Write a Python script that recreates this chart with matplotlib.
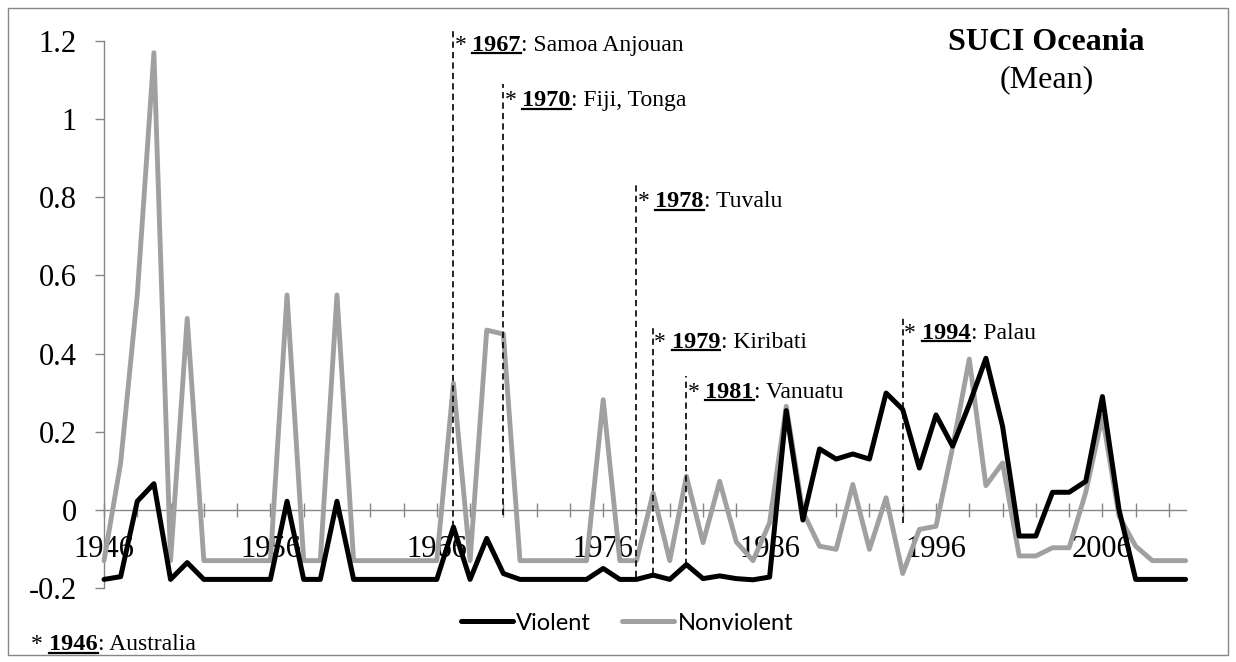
import matplotlib
matplotlib.use('Agg')
import matplotlib.pyplot as plt
from matplotlib.lines import Line2D
from matplotlib.patches import Rectangle

plt.rcParams['font.family'] = 'Liberation Serif'
plt.rcParams['axes.unicode_minus'] = False
plt.rcParams['lines.scale_dashes'] = False

# SUCI Oceania, yearly means
years = list(range(1946, 2012))
violent = [-0.178, -0.171, 0.022, 0.067, -0.178, -0.135, -0.178, -0.178, -0.178, -0.178,
           -0.178, 0.022, -0.178, -0.178, 0.022, -0.178, -0.178, -0.178, -0.178, -0.178,
           -0.178, -0.044, -0.178, -0.073, -0.163, -0.178, -0.178, -0.178, -0.178, -0.178,
           -0.150, -0.178, -0.178, -0.167, -0.178, -0.140, -0.176, -0.169, -0.176, -0.179,
           -0.172, 0.254, -0.026, 0.156, 0.130, 0.143, 0.130, 0.299, 0.257, 0.107,
           0.243, 0.163, 0.270, 0.388, 0.214, -0.067, -0.067, 0.045, 0.045, 0.073,
           0.290, 0.000, -0.178, -0.178, -0.178, -0.178]
nonviolent = [-0.130, 0.120, 0.550, 1.170, -0.130, 0.490, -0.130, -0.130, -0.130, -0.130,
              -0.130, 0.550, -0.130, -0.130, 0.550, -0.130, -0.130, -0.130, -0.130, -0.130,
              -0.130, 0.324, -0.130, 0.460, 0.450, -0.130, -0.130, -0.130, -0.130, -0.130,
              0.282, -0.130, -0.130, 0.043, -0.130, 0.086, -0.084, 0.073, -0.082, -0.130,
              -0.033, 0.265, -0.005, -0.093, -0.101, 0.065, -0.101, 0.031, -0.163, -0.050,
              -0.042, 0.160, 0.386, 0.062, 0.120, -0.118, -0.118, -0.097, -0.097, 0.045,
              0.240, -0.016, -0.093, -0.130, -0.130, -0.130]

# independence years marked on the chart
event_years = [1967, 1970, 1978, 1979, 1981, 1994]
event_names = ['Samoa Anjouan', 'Fiji, Tonga', 'Tuvalu', 'Kiribati', 'Vanuatu', 'Palau']
# layout only: label height and where each dashed line stops
label_y = [1.196, 1.053, 0.795, 0.435, 0.307, 0.458]
line_bottom = [-0.044, -0.012, -0.173, -0.165, -0.140, -0.033]

y_ticks = [-0.2, 0, 0.2, 0.4, 0.6, 0.8, 1, 1.2]
x_label_years = list(range(1946, 2007, 10))

W, H = 1236, 662
AXIS_GREY = '#868686'
fig = plt.figure(figsize=(W / 100, H / 100), dpi=100)
ax = fig.add_axes([104 / W, 1 - 588 / H, (1185.6 - 104) / W, (588 - 41) / H])

ax.plot(years, nonviolent, color='#A0A0A0', lw=3.5, solid_joinstyle='round',
        solid_capstyle='round', zorder=4, clip_on=False)
ax.plot(years, violent, color='black', lw=3.6, solid_joinstyle='round',
        solid_capstyle='round', zorder=5, clip_on=False)

ax.set_xlim(1946, 2011)
ax.set_ylim(-0.2, 1.2)
ax.set_yticks(y_ticks)
ax.set_yticklabels([f'{v:g}' for v in y_ticks])
ax.set_xticks(x_label_years)
ax.set_xticklabels([str(y) for y in x_label_years])
ax.set_xticks(list(range(1946, 2011, 2)), minor=True)

ax.spines['top'].set_visible(False)
ax.spines['right'].set_visible(False)
ax.spines['bottom'].set_position(('data', 0))
for s in ['left', 'bottom']:
    ax.spines[s].set_color(AXIS_GREY)
    ax.spines[s].set_linewidth(1.0)
ax.tick_params(axis='x', which='both', direction='inout', length=10, width=1,
               color=AXIS_GREY, labelsize=22, pad=13)
ax.tick_params(axis='y', direction='out', length=6.5, width=1, color=AXIS_GREY,
               labelsize=22, pad=13)
ax.set_facecolor('none')

# legend
handles = [Line2D([], [], color='black', lw=3.6, solid_capstyle='round'),
           Line2D([], [], color='#A0A0A0', lw=3.6, solid_capstyle='round')]
fig.legend(handles, ['Violent', 'Nonviolent'], loc='center', ncol=2, frameon=False,
           bbox_to_anchor=(627 / W, 1 - 623 / H), prop={'family': 'Lato', 'size': 17},
           handlelength=2.2, handletextpad=0.15, columnspacing=1.3)

# title
fig.text(1046.7 / W, 1 - 42 / H, 'SUCI Oceania', ha='center', va='center',
         fontsize=23, fontweight='bold')
fig.text(1046.7 / W, 1 - 80 / H, '(Mean)', ha='center', va='center', fontsize=23)

renderer = fig.canvas.get_renderer()


def event_label(x_px, base_px, year, rest):
    # "* " + bold underlined year + ": rest", placed piece by piece in pixels
    star = fig.text(x_px / W, base_px / H, '*', fontsize=17, va='baseline')
    bb = star.get_window_extent(renderer)
    yr = fig.text((bb.x1 + 6) / W, base_px / H, str(year), fontsize=17.5,
                  fontweight='bold', va='baseline')
    bb2 = yr.get_window_extent(renderer)
    fig.add_artist(Line2D([bb2.x0 / W, bb2.x1 / W], [(base_px - 2.5) / H] * 2,
                          color='black', lw=1.6, transform=fig.transFigure))
    fig.text((bb2.x1 + 0.5) / W, base_px / H, ': ' + rest, fontsize=17, va='baseline')


for yr, name, ly, lb in zip(event_years, event_names, label_y, line_bottom):
    x_px, y_px = ax.transData.transform((yr, ly))
    ax.plot([yr, yr], [lb, ly + 0.036], color='black', lw=1.2,
            linestyle=(0, (4.5, 3.0)), zorder=6, clip_on=False)
    event_label(x_px + 1, y_px - 8, yr, name)

event_label(31, H - 650, 1946, 'Australia')

# chart border
fig.add_artist(Rectangle((8 / W, 1 - 655 / H), (1228 - 8) / W, (655 - 7.5) / H,
                         transform=fig.transFigure, fill=False,
                         edgecolor=AXIS_GREY, lw=1.0))

fig.savefig('out.png', dpi=100)
